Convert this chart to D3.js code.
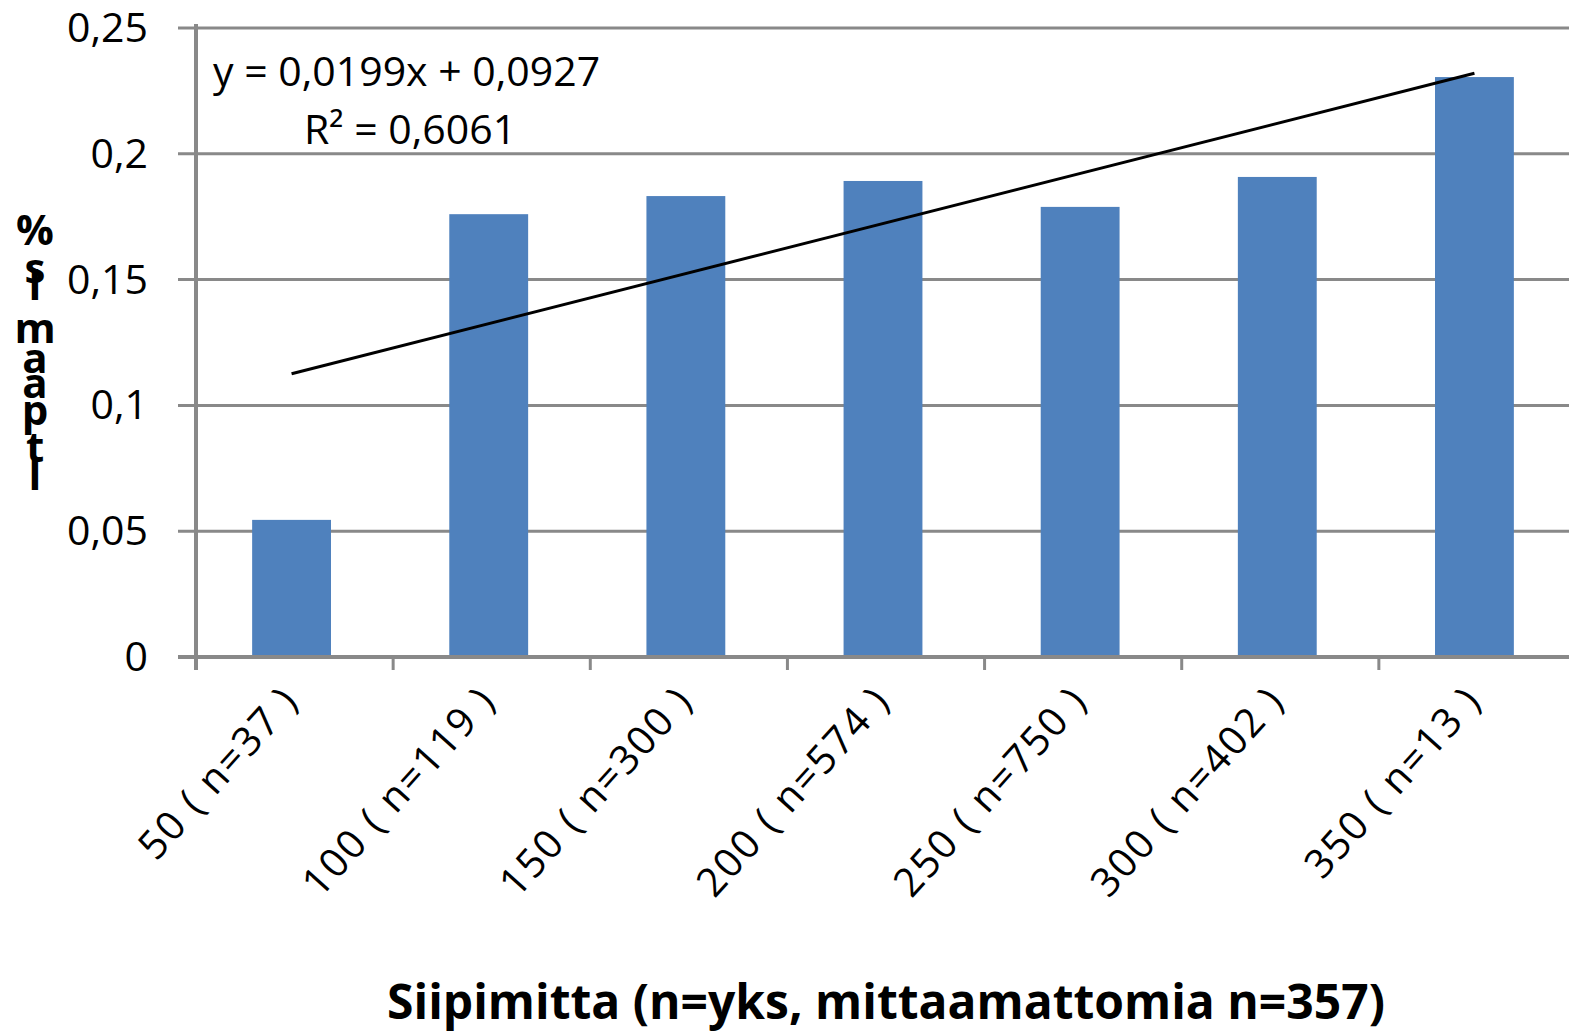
<!DOCTYPE html>
<html>
<head>
  <meta charset="UTF-8">
  <style>
    body { margin: 0; background: white; font-family: "Open Sans", sans-serif; }
    svg { display: block; }
  </style>
</head>
<body>
<svg></svg>
<script src="https://d3js.org/d3.v7.min.js"></script>
<script>

// chart data
let categories = ["50 ( n=37 )", "100 ( n=119 )", "150 ( n=300 )", "200 ( n=574 )",
                  "250 ( n=750 )", "300 ( n=402 )", "350 ( n=13 )"];
let values = [0.0545, 0.176, 0.1832, 0.1892, 0.1789, 0.1908, 0.2305];
let yTicks = [0, 0.05, 0.1, 0.15, 0.2, 0.25];
let trendSlope = 0.0199, trendIntercept = 0.0927;
let equationLines = ["y = 0,0199x + 0,0927", "R² = 0,6061"];
let xTitle = "Siipimitta (n=yks, mittaamattomia n=357)";
let yLabelChars = ["%", "s", "l", "m", "a", "a", "p", "t", "l"];

let width = 1569, height = 1035;
let svg = d3.select("svg").attr("width", width).attr("height", height);

let x = d3.scaleBand().domain(categories).range([196, 1576]).paddingInner(0.6).paddingOuter(0.3);
let xTick = d3.scaleBand().domain(categories).range([196, 1576]);
let y = d3.scaleLinear().domain([0, 0.25]).range([657, 28]);

let fmt = d => d3.format(",")(d).replace(".", ",");

// gridlines
svg.append("g").selectAll("line").data(yTicks.slice(1)).enter().append("line")
  .attr("x1", 178).attr("x2", width)
  .attr("y1", d => y(d)).attr("y2", d => y(d))
  .attr("stroke", "#898989").attr("stroke-width", 3);

// bars
svg.append("g").selectAll("rect").data(values).enter().append("rect")
  .attr("x", (d, i) => x(categories[i]) - 3)
  .attr("width", x.bandwidth())
  .attr("y", d => y(d))
  .attr("height", d => y(0) - y(d))
  .attr("fill", "#4f81bd");

// axes
svg.append("line").attr("x1", 196).attr("x2", 196).attr("y1", 24).attr("y2", 670)
  .attr("stroke", "#898989").attr("stroke-width", 4);
svg.append("line").attr("x1", 178).attr("x2", width).attr("y1", y(0)).attr("y2", y(0))
  .attr("stroke", "#898989").attr("stroke-width", 4);

// x ticks
svg.append("g").selectAll("line").data(categories).enter().append("line")
  .attr("x1", d => xTick(d)).attr("x2", d => xTick(d))
  .attr("y1", y(0)).attr("y2", 670)
  .attr("stroke", "#898989").attr("stroke-width", 3);

// y tick labels
svg.append("g").selectAll("text").data(yTicks).enter().append("text")
  .attr("x", 148).attr("y", d => y(d) + 14)
  .attr("text-anchor", "end")
  .attr("font-size", 41)
  .attr("fill", "#000")
  .text(d => fmt(d));

// x tick labels
svg.append("g").selectAll("text").data(categories).enter().append("text")
  .attr("transform", d => `translate(${x(d) + x.bandwidth() / 2 + 6},${702}) rotate(-48)`)
  .attr("text-anchor", "end")
  .attr("font-size", 40)
  .attr("letter-spacing", 2)
  .attr("fill", "#000")
  .text(d => d);

// trend line
let n = values.length;
svg.append("line")
  .attr("x1", x(categories[0]) + x.bandwidth() / 2 - 3)
  .attr("y1", y(trendSlope * 1 + trendIntercept))
  .attr("x2", x(categories[n - 1]) + x.bandwidth() / 2 - 3)
  .attr("y2", y(trendSlope * n + trendIntercept))
  .attr("stroke", "#000").attr("stroke-width", 3);

// equation
svg.append("text").attr("x", 213).attr("y", 86).attr("font-size", 41).text(equationLines[0]);
svg.append("text").attr("x", 304).attr("y", 144).attr("font-size", 41).text(equationLines[1]);

// x title
svg.append("text").attr("x", 886).attr("y", 1019).attr("text-anchor", "middle")
  .attr("font-size", 48).attr("font-weight", "bold").text(xTitle);

// garbled y label (stacked, overlapping letters)
let yLabelBase = [245, 283, 300, 343, 373, 398, 425, 462, 490];
svg.append("g").selectAll("text").data(yLabelChars).enter().append("text")
  .attr("x", 35).attr("y", (d, i) => yLabelBase[i])
  .attr("text-anchor", "middle")
  .attr("font-size", 42).attr("font-weight", "bold")
  .text(d => d);

</script>
</body>
</html>
